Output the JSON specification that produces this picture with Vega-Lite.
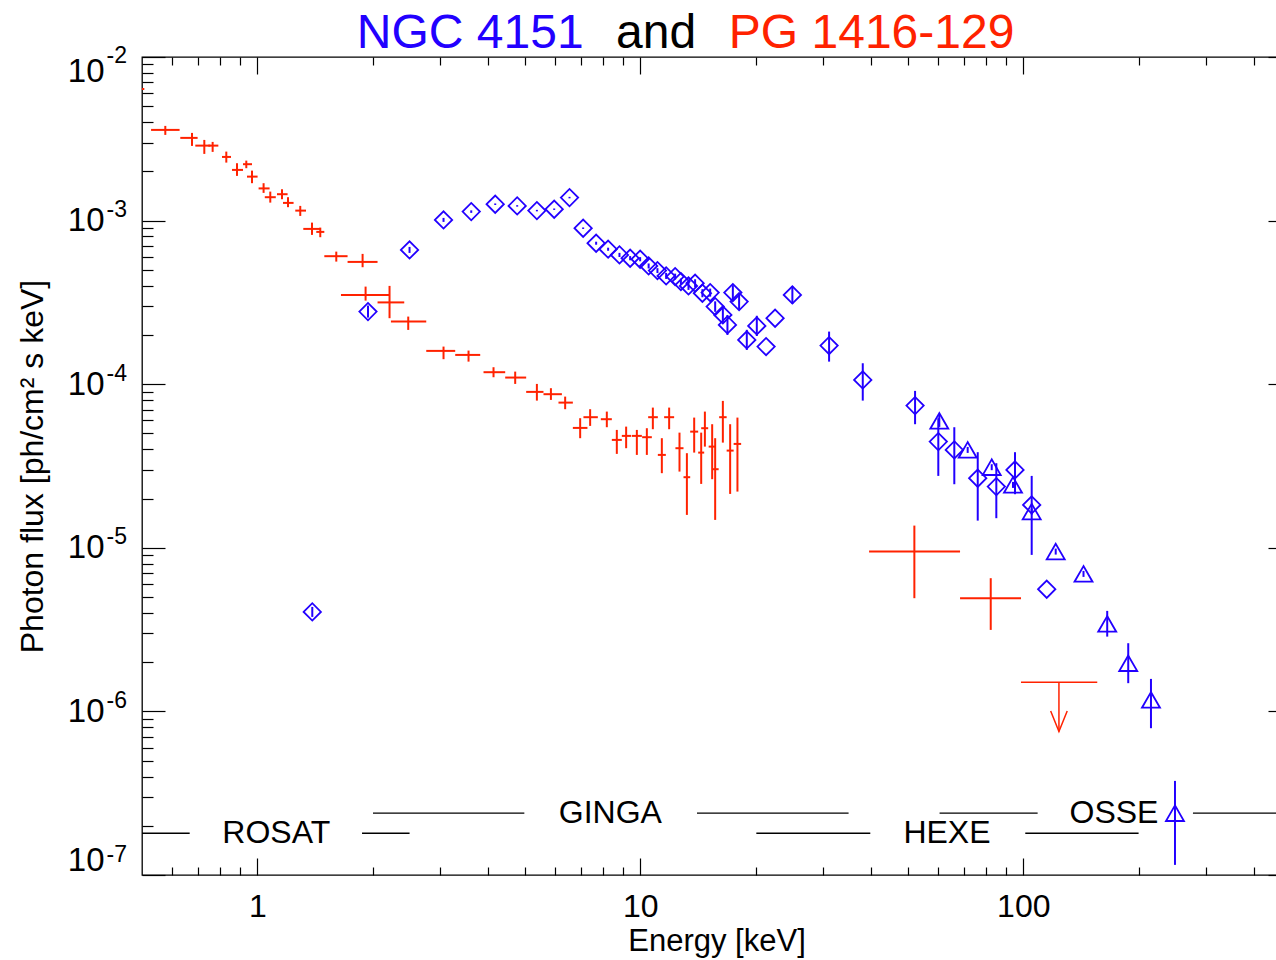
{
  "$schema": "https://vega.github.io/schema/vega-lite/v6.json",
  "width": 1149,
  "height": 818,
  "autosize": {"type": "none"},
  "padding": {"left": 142, "top": 57, "right": -15, "bottom": 85},
  "background": "white",
  "config": {
    "view": {"stroke": "#000", "strokeWidth": 1.3},
    "axis": {"domain": false, "grid": false, "tickColor": "#000", "tickWidth": 1.2, "labelColor": "#000", "titleColor": "#000", "labelFont": "Liberation Sans", "titleFont": "Liberation Sans", "titleFontWeight": "normal", "labelOverlap": false, "labelFlush": false}
  },
  "datasets": {
    "red": [
      {"E":0.45,"Elo":0.40,"Ehi":0.507,"F":6.383e-3,"Flo":6.383e-3,"Fhi":6.383e-3},
      {"E":0.5752,"Elo":0.5280,"Ehi":0.6268,"F":3.584e-3,"Flo":3.341e-3,"Fhi":3.792e-3},
      {"E":0.6754,"Elo":0.6294,"Ehi":0.6985,"F":3.203e-3,"Flo":2.861e-3,"Fhi":3.436e-3},
      {"E":0.7272,"Elo":0.6889,"Ehi":0.7540,"F":2.873e-3,"Flo":2.557e-3,"Fhi":3.113e-3},
      {"E":0.7646,"Elo":0.7450,"Ehi":0.7912,"F":2.873e-3,"Flo":2.630e-3,"Fhi":3.027e-3},
      {"E":0.8300,"Elo":0.8089,"Ehi":0.8538,"F":2.450e-3,"Flo":2.262e-3,"Fhi":2.641e-3},
      {"E":0.8850,"Elo":0.8590,"Ehi":0.9178,"F":2.041e-3,"Flo":1.876e-3,"Fhi":2.243e-3},
      {"E":0.9360,"Elo":0.9178,"Ehi":0.9686,"F":2.212e-3,"Flo":2.091e-3,"Fhi":2.326e-3},
      {"E":0.9686,"Elo":0.9400,"Ehi":1.0018,"F":1.857e-3,"Flo":1.693e-3,"Fhi":2.021e-3},
      {"E":1.0386,"Elo":1.0078,"Ehi":1.0767,"F":1.573e-3,"Flo":1.477e-3,"Fhi":1.693e-3},
      {"E":1.0812,"Elo":1.0461,"Ehi":1.1176,"F":1.390e-3,"Flo":1.288e-3,"Fhi":1.504e-3},
      {"E":1.1600,"Elo":1.1257,"Ehi":1.1998,"F":1.450e-3,"Flo":1.351e-3,"Fhi":1.555e-3},
      {"E":1.2027,"Elo":1.1670,"Ehi":1.2437,"F":1.283e-3,"Flo":1.208e-3,"Fhi":1.390e-3},
      {"E":1.2947,"Elo":1.2565,"Ehi":1.3402,"F":1.151e-3,"Flo":1.068e-3,"Fhi":1.230e-3},
      {"E":1.3892,"Elo":1.3186,"Ehi":1.4603,"F":8.897e-4,"Flo":8.177e-4,"Fhi":9.722e-4},
      {"E":1.4603,"Elo":1.4256,"Ehi":1.4962,"F":8.530e-4,"Flo":7.916e-4,"Fhi":9.061e-4},
      {"E":1.6078,"Elo":1.4962,"Ehi":1.7207,"F":6.060e-4,"Flo":5.615e-4,"Fhi":6.463e-4},
      {"E":1.8834,"Elo":1.7207,"Ehi":2.0605,"F":5.591e-4,"Flo":5.189e-4,"Fhi":6.259e-4},
      {"E":1.9176,"Elo":1.6538,"Ehi":2.2145,"F":3.514e-4,"Flo":3.243e-4,"Fhi":3.950e-4},
      {"E":2.2145,"Elo":2.0605,"Ehi":2.4192,"F":3.162e-4,"Flo":2.532e-4,"Fhi":3.989e-4},
      {"E":2.4780,"Elo":2.2333,"Ehi":2.7614,"F":2.413e-4,"Flo":2.147e-4,"Fhi":2.590e-4},
      {"E":3.0637,"Elo":2.7614,"Ehi":3.2867,"F":1.598e-4,"Flo":1.422e-4,"Fhi":1.698e-4},
      {"E":3.5608,"Elo":3.2867,"Ehi":3.8197,"F":1.510e-4,"Flo":1.374e-4,"Fhi":1.605e-4},
      {"E":4.1379,"Elo":3.8963,"Ehi":4.4388,"F":1.184e-4,"Flo":1.103e-4,"Fhi":1.270e-4},
      {"E":4.7137,"Elo":4.4388,"Ehi":5.0355,"F":1.098e-4,"Flo":1.004e-4,"Fhi":1.194e-4},
      {"E":5.3703,"Elo":5.0355,"Ehi":5.5875,"F":8.974e-5,"Flo":7.938e-5,"Fhi":1.004e-4},
      {"E":5.8429,"Elo":5.5875,"Ehi":6.2409,"F":8.688e-5,"Flo":8.016e-5,"Fhi":9.453e-5},
      {"E":6.3654,"Elo":6.1148,"Ehi":6.6668,"F":7.718e-5,"Flo":7.034e-5,"Fhi":8.398e-5},
      {"E":6.9663,"Elo":6.6668,"Ehi":7.2778,"F":5.405e-5,"Flo":4.677e-5,"Fhi":6.197e-5},
      {"E":7.3967,"Elo":7.1051,"Ehi":7.7469,"F":6.285e-5,"Flo":5.560e-5,"Fhi":7.034e-5},
      {"E":8.1774,"Elo":7.8878,"Ehi":8.4273,"F":6.110e-5,"Flo":5.458e-5,"Fhi":6.801e-5},
      {"E":8.6836,"Elo":8.4273,"Ehi":8.9487,"F":4.566e-5,"Flo":3.750e-5,"Fhi":5.255e-5},
      {"E":9.1843,"Elo":8.9487,"Ehi":9.4645,"F":4.831e-5,"Flo":4.062e-5,"Fhi":5.505e-5},
      {"E":9.7949,"Elo":9.5045,"Ehi":10.094,"F":4.831e-5,"Flo":3.697e-5,"Fhi":5.255e-5},
      {"E":10.402,"Elo":10.112,"Ehi":10.718,"F":4.743e-5,"Flo":3.697e-5,"Fhi":5.382e-5},
      {"E":10.784,"Elo":10.484,"Ehi":11.112,"F":6.285e-5,"Flo":5.307e-5,"Fhi":7.194e-5},
      {"E":11.383,"Elo":11.112,"Ehi":11.660,"F":3.697e-5,"Flo":2.858e-5,"Fhi":4.677e-5},
      {"E":11.894,"Elo":11.541,"Ehi":12.256,"F":6.285e-5,"Flo":5.307e-5,"Fhi":7.194e-5},
      {"E":12.658,"Elo":12.352,"Ehi":12.966,"F":4.062e-5,"Flo":2.923e-5,"Fhi":5.058e-5},
      {"E":13.233,"Elo":12.966,"Ehi":13.498,"F":2.701e-5,"Flo":1.589e-5,"Fhi":3.787e-5},
      {"E":13.826,"Elo":13.498,"Ehi":14.162,"F":5.130e-5,"Flo":3.819e-5,"Fhi":6.250e-5},
      {"E":14.421,"Elo":14.162,"Ehi":14.683,"F":3.819e-5,"Flo":2.458e-5,"Fhi":5.058e-5},
      {"E":14.745,"Elo":14.421,"Ehi":15.040,"F":5.382e-5,"Flo":4.154e-5,"Fhi":6.801e-5},
      {"E":15.405,"Elo":15.085,"Ehi":15.733,"F":4.154e-5,"Flo":2.626e-5,"Fhi":5.694e-5},
      {"E":15.685,"Elo":15.405,"Ehi":16.017,"F":3.023e-5,"Flo":1.481e-5,"Fhi":4.677e-5},
      {"E":16.427,"Elo":16.066,"Ehi":16.806,"F":6.285e-5,"Flo":4.395e-5,"Fhi":7.905e-5},
      {"E":17.163,"Elo":16.806,"Ehi":17.528,"F":3.928e-5,"Flo":2.135e-5,"Fhi":5.694e-5},
      {"E":17.933,"Elo":17.528,"Ehi":18.336,"F":4.315e-5,"Flo":2.206e-5,"Fhi":6.250e-5},
      {"E":51.95,"Elo":39.57,"Ehi":68.37,"F":9.479e-6,"Flo":4.920e-6,"Fhi":1.367e-5},
      {"E":82.22,"Elo":68.37,"Ehi":98.63,"F":4.920e-6,"Flo":3.149e-6,"Fhi":6.520e-6}
    ],
    "ul": [
      {"E":123.9,"Elo":98.63,"Ehi":156.0,"F":1.509e-6,"Ftip":7.525e-7}
    ],
    "diam": [
      {"E":1.3918,"F":4.058e-6,"Flo":3.781e-6,"Fhi":4.352e-6},
      {"E":1.9454,"F":2.778e-4,"Flo":2.554e-4,"Fhi":3.024e-4},
      {"E":2.4975,"F":6.620e-4,"Flo":6.346e-4,"Fhi":6.906e-4},
      {"E":3.0637,"F":1.0099e-3,"Flo":9.818e-4,"Fhi":1.0387e-3},
      {"E":3.6192,"F":1.1350e-3,"Flo":1.115e-3,"Fhi":1.155e-3},
      {"E":4.1804,"F":1.2596e-3,"Flo":1.246e-3,"Fhi":1.273e-3},
      {"E":4.7705,"F":1.2299e-3,"Flo":1.217e-3,"Fhi":1.243e-3},
      {"E":5.3703,"F":1.1511e-3,"Flo":1.139e-3,"Fhi":1.163e-3},
      {"E":5.9591,"F":1.1740e-3,"Flo":1.162e-3,"Fhi":1.186e-3},
      {"E":6.5340,"F":1.3821e-3,"Flo":1.368e-3,"Fhi":1.397e-3},
      {"E":7.0924,"F":8.985e-4,"Flo":8.89e-4,"Fhi":9.08e-4},
      {"E":7.6681,"F":7.275e-4,"Flo":7.12e-4,"Fhi":7.43e-4},
      {"E":8.2414,"F":6.687e-4,"Flo":6.54e-4,"Fhi":6.83e-4},
      {"E":8.8234,"F":6.171e-4,"Flo":5.99e-4,"Fhi":6.35e-4},
      {"E":9.4078,"F":5.891e-4,"Flo":5.72e-4,"Fhi":6.07e-4},
      {"E":9.9910,"F":5.809e-4,"Flo":5.64e-4,"Fhi":5.98e-4},
      {"E":10.514,"F":5.284e-4,"Flo":5.10e-4,"Fhi":5.47e-4},
      {"E":11.086,"F":4.947e-4,"Flo":4.78e-4,"Fhi":5.12e-4},
      {"E":11.681,"F":4.592e-4,"Flo":4.40e-4,"Fhi":4.79e-4},
      {"E":12.330,"F":4.547e-4,"Flo":4.36e-4,"Fhi":4.74e-4},
      {"E":12.765,"F":4.238e-4,"Flo":4.06e-4,"Fhi":4.42e-4},
      {"E":13.361,"F":3.989e-4,"Flo":3.77e-4,"Fhi":4.22e-4},
      {"E":13.903,"F":4.144e-4,"Flo":3.92e-4,"Fhi":4.38e-4},
      {"E":14.527,"F":3.599e-4,"Flo":3.40e-4,"Fhi":3.81e-4},
      {"E":15.221,"F":3.630e-4,"Flo":3.43e-4,"Fhi":3.84e-4},
      {"E":15.685,"F":2.981e-4,"Flo":2.77e-4,"Fhi":3.21e-4},
      {"E":16.427,"F":2.652e-4,"Flo":2.39e-4,"Fhi":2.94e-4},
      {"E":16.887,"F":2.304e-4,"Flo":2.00e-4,"Fhi":2.65e-4},
      {"E":17.444,"F":3.630e-4,"Flo":3.27e-4,"Fhi":4.03e-4},
      {"E":18.113,"F":3.197e-4,"Flo":2.85e-4,"Fhi":3.58e-4},
      {"E":18.970,"F":1.865e-4,"Flo":1.62e-4,"Fhi":2.15e-4},
      {"E":20.147,"F":2.272e-4,"Flo":1.97e-4,"Fhi":2.62e-4},
      {"E":21.303,"F":1.698e-4,"Flo":1.698e-4,"Fhi":1.698e-4},
      {"E":22.487,"F":2.532e-4,"Flo":2.532e-4,"Fhi":2.532e-4},
      {"E":24.950,"F":3.514e-4,"Flo":3.10e-4,"Fhi":3.98e-4},
      {"E":31.112,"F":1.722e-4,"Flo":1.374e-4,"Fhi":2.097e-4},
      {"E":38.094,"F":1.062e-4,"Flo":7.938e-5,"Fhi":1.343e-4},
      {"E":52.17,"F":7.398e-5,"Flo":5.694e-5,"Fhi":9.101e-5},
      {"E":59.99,"F":4.457e-5,"Flo":2.751e-5,"Fhi":6.197e-5},
      {"E":66.05,"F":3.967e-5,"Flo":2.447e-5,"Fhi":5.458e-5},
      {"E":76.04,"F":2.663e-5,"Flo":1.466e-5,"Fhi":3.841e-5},
      {"E":85.03,"F":2.366e-5,"Flo":1.517e-5,"Fhi":3.290e-5},
      {"E":95.13,"F":2.993e-5,"Flo":2.126e-5,"Fhi":3.841e-5},
      {"E":105.18,"F":1.829e-5,"Flo":9.049e-6,"Fhi":2.751e-5},
      {"E":115.13,"F":5.582e-6,"Flo":5.582e-6,"Fhi":5.582e-6}
    ],
    "tri": [
      {"E":60.35,"F":5.966e-5,"Flo":5.483e-5,"Fhi":6.494e-5},
      {"E":71.58,"F":3.967e-5,"Flo":3.802e-5,"Fhi":4.136e-5},
      {"E":82.71,"F":3.109e-5,"Flo":2.981e-5,"Fhi":3.243e-5},
      {"E":94.00,"F":2.423e-5,"Flo":2.323e-5,"Fhi":2.528e-5},
      {"E":105.18,"F":1.664e-5,"Flo":1.596e-5,"Fhi":1.736e-5},
      {"E":121.52,"F":9.479e-6,"Flo":9.089e-6,"Fhi":9.888e-6},
      {"E":143.62,"F":6.925e-6,"Flo":6.639e-6,"Fhi":7.224e-6},
      {"E":165.62,"F":3.426e-6,"Flo":2.865e-6,"Fhi":4.115e-6},
      {"E":187.93,"F":1.970e-6,"Flo":1.488e-6,"Fhi":2.611e-6},
      {"E":215.45,"F":1.176e-6,"Flo":7.895e-7,"Fhi":1.580e-6},
      {"E":248.9,"F":2.386e-7,"Flo":1.153e-7,"Fhi":3.760e-7}
    ],
    "inst": [
      {"E1":0.3,"E2":0.666,"F":1.8e-7},
      {"E1":1.877,"E2":2.498,"F":1.8e-7},
      {"E1":2.005,"E2":4.98,"F":2.39e-7},
      {"E1":14.06,"E2":34.98,"F":2.39e-7},
      {"E1":20.09,"E2":39.86,"F":1.8e-7},
      {"E1":101.2,"E2":200,"F":1.8e-7},
      {"E1":60.45,"E2":109,"F":2.39e-7},
      {"E1":277.3,"E2":800,"F":2.39e-7}
    ],
    "lbl": [
      {"E":1.121,"F":1.8e-7,"text":"ROSAT"},
      {"E":8.35,"F":2.39e-7,"text":"GINGA"},
      {"E":63.2,"F":1.8e-7,"text":"HEXE"},
      {"E":172.5,"F":2.39e-7,"text":"OSSE"}
    ],
    "ttl": [
      {"E":3.597,"F":0.011318,"text":"NGC 4151"},
      {"E":11.0,"F":0.011318,"text":"and"},
      {"E":40.17,"F":0.011318,"text":"PG 1416-129"}
    ]
  },
  "resolve": {"axis": {"x": "independent", "y": "independent"}},
  "layer": [
    {
      "data": {"name": "red"},
      "mark": {"type": "rule", "color": "#ff2200", "strokeWidth": 2, "clip": true},
      "encoding": {
        "x": {"field": "Elo", "type": "quantitative", "scale": {"type": "log", "domain": [0.5, 500], "nice": false},
          "axis": {"orient": "bottom", "values": [1, 10, 100], "ticks": false, "labelExpr": "format(datum.value, 'd')", "labelFontSize": 32, "labelPadding": 16, "title": "Energy [keV]", "titleFontSize": 31, "titlePadding": 4}},
        "x2": {"field": "Ehi"},
        "y": {"field": "F", "type": "quantitative", "scale": {"type": "log", "domain": [1e-7, 1e-2], "nice": false},
          "axis": {"orient": "left", "values": [1e-7, 1e-6, 1e-5, 1e-4, 1e-3, 1e-2], "ticks": false, "labelExpr": "'10'", "labelFontSize": 33, "labelPadding": 38, "labelFlush": true, "labelFlushOffset": 2, "title": "Photon flux [ph/cm² s keV]", "titleFontSize": 32, "titlePadding": 18}}
      }
    },
    {
      "data": {"name": "red"},
      "mark": {"type": "rule", "color": "#ff2200", "strokeWidth": 2, "clip": true},
      "encoding": {
        "x": {"field": "E", "type": "quantitative", "scale": {"type": "log", "domain": [0.5, 500], "nice": false},
          "axis": {"orient": "bottom", "values": [1, 10, 100], "labels": false, "tickSize": -17, "title": null}},
        "y": {"field": "Flo", "type": "quantitative", "scale": {"type": "log", "domain": [1e-7, 1e-2], "nice": false},
          "axis": {"orient": "left", "values": [1e-7, 1e-6, 1e-5, 1e-4, 1e-3, 1e-2], "ticks": false, "labelExpr": "'-' + format(-log(datum.value)/LN10, '.0f')", "labelAlign": "left", "labelFontSize": 23, "labelPadding": 36, "labelOffset": -11, "labelFlush": true, "labelFlushOffset": 2, "title": null}},
        "y2": {"field": "Fhi"}
      }
    },
    {
      "data": {"name": "diam"},
      "mark": {"type": "rule", "color": "#2200ff", "strokeWidth": 2, "clip": true},
      "encoding": {
        "x": {"field": "E", "type": "quantitative", "scale": {"type": "log", "domain": [0.5, 500], "nice": false},
          "axis": {"orient": "bottom", "values": [0.6, 0.7, 0.8, 0.9, 2, 3, 4, 5, 6, 7, 8, 9, 20, 30, 40, 50, 60, 70, 80, 90, 200, 300, 400], "labels": false, "tickSize": -8, "title": null}},
        "y": {"field": "Flo", "type": "quantitative", "scale": {"type": "log", "domain": [1e-7, 1e-2], "nice": false},
          "axis": {"orient": "left", "values": [1e-7, 1e-6, 1e-5, 1e-4, 1e-3, 1e-2], "labels": false, "tickSize": -23, "title": null}},
        "y2": {"field": "Fhi"}
      }
    },
    {
      "data": {"name": "tri"},
      "mark": {"type": "rule", "color": "#2200ff", "strokeWidth": 2, "clip": true},
      "encoding": {
        "x": {"field": "E", "type": "quantitative", "scale": {"type": "log", "domain": [0.5, 500], "nice": false},
          "axis": {"orient": "top", "values": [1, 10, 100], "labels": false, "tickSize": -17, "title": null}},
        "y": {"field": "Flo", "type": "quantitative", "scale": {"type": "log", "domain": [1e-7, 1e-2], "nice": false},
          "axis": {"orient": "left", "values": [2e-7,3e-7,4e-7,5e-7,6e-7,7e-7,8e-7,9e-7,2e-6,3e-6,4e-6,5e-6,6e-6,7e-6,8e-6,9e-6,2e-5,3e-5,4e-5,5e-5,6e-5,7e-5,8e-5,9e-5,2e-4,3e-4,4e-4,5e-4,6e-4,7e-4,8e-4,9e-4,2e-3,3e-3,4e-3,5e-3,6e-3,7e-3,8e-3,9e-3], "labels": false, "tickSize": -11, "title": null}},
        "y2": {"field": "Fhi"}
      }
    },
    {
      "data": {"name": "diam"},
      "mark": {"type": "point", "shape": "diamond", "size": 300, "filled": false, "color": "#2200ff", "strokeWidth": 1.8, "opacity": 1, "clip": true},
      "encoding": {
        "x": {"field": "E", "type": "quantitative", "scale": {"type": "log", "domain": [0.5, 500], "nice": false},
          "axis": {"orient": "top", "values": [0.6, 0.7, 0.8, 0.9, 2, 3, 4, 5, 6, 7, 8, 9, 20, 30, 40, 50, 60, 70, 80, 90, 200, 300, 400], "labels": false, "tickSize": -8, "title": null}},
        "y": {"field": "F", "type": "quantitative", "scale": {"type": "log", "domain": [1e-7, 1e-2], "nice": false},
          "axis": {"orient": "right", "values": [1e-7, 1e-6, 1e-5, 1e-4, 1e-3, 1e-2], "labels": false, "tickSize": -23, "title": null}}
      }
    },
    {
      "data": {"name": "tri"},
      "mark": {"type": "point", "shape": "triangle-up", "size": 324, "filled": false, "color": "#2200ff", "strokeWidth": 1.8, "opacity": 1, "clip": true},
      "encoding": {
        "x": {"field": "E", "type": "quantitative", "scale": {"type": "log", "domain": [0.5, 500], "nice": false}, "axis": null},
        "y": {"field": "F", "type": "quantitative", "scale": {"type": "log", "domain": [1e-7, 1e-2], "nice": false},
          "axis": {"orient": "right", "values": [2e-7,3e-7,4e-7,5e-7,6e-7,7e-7,8e-7,9e-7,2e-6,3e-6,4e-6,5e-6,6e-6,7e-6,8e-6,9e-6,2e-5,3e-5,4e-5,5e-5,6e-5,7e-5,8e-5,9e-5,2e-4,3e-4,4e-4,5e-4,6e-4,7e-4,8e-4,9e-4,2e-3,3e-3,4e-3,5e-3,6e-3,7e-3,8e-3,9e-3], "labels": false, "tickSize": -11, "title": null}}
      }
    },
    {
      "data": {"name": "ul"},
      "mark": {"type": "rule", "color": "#ff2200", "strokeWidth": 1.5, "clip": true},
      "encoding": {
        "x": {"field": "Elo", "type": "quantitative", "scale": {"type": "log", "domain": [0.5, 500], "nice": false}, "axis": null},
        "x2": {"field": "Ehi"},
        "y": {"field": "F", "type": "quantitative", "scale": {"type": "log", "domain": [1e-7, 1e-2], "nice": false}, "axis": null}
      }
    },
    {
      "data": {"name": "ul"},
      "mark": {"type": "rule", "color": "#ff2200", "strokeWidth": 1.5, "clip": true},
      "encoding": {
        "x": {"field": "E", "type": "quantitative", "scale": {"type": "log", "domain": [0.5, 500], "nice": false}, "axis": null},
        "y": {"field": "F", "type": "quantitative", "scale": {"type": "log", "domain": [1e-7, 1e-2], "nice": false}, "axis": null},
        "y2": {"field": "Ftip"}
      }
    },
    {
      "data": {"name": "ul"},
      "mark": {"type": "point", "shape": "M-0.8,-2L0,0L0.8,-2", "size": 428, "filled": false, "color": "#ff2200", "strokeWidth": 1.5, "opacity": 1},
      "encoding": {
        "x": {"field": "E", "type": "quantitative", "scale": {"type": "log", "domain": [0.5, 500], "nice": false}, "axis": null},
        "y": {"field": "Ftip", "type": "quantitative", "scale": {"type": "log", "domain": [1e-7, 1e-2], "nice": false}, "axis": null}
      }
    },
    {
      "data": {"name": "inst"},
      "mark": {"type": "rule", "color": "#000", "strokeWidth": 1.4, "clip": true},
      "encoding": {
        "x": {"field": "E1", "type": "quantitative", "scale": {"type": "log", "domain": [0.5, 500], "nice": false}, "axis": null},
        "x2": {"field": "E2"},
        "y": {"field": "F", "type": "quantitative", "scale": {"type": "log", "domain": [1e-7, 1e-2], "nice": false}, "axis": null}
      }
    },
    {
      "data": {"name": "lbl"},
      "mark": {"type": "text", "font": "Liberation Sans", "fontSize": 32, "color": "#000", "align": "center", "baseline": "middle"},
      "encoding": {
        "x": {"field": "E", "type": "quantitative", "scale": {"type": "log", "domain": [0.5, 500], "nice": false}, "axis": null},
        "y": {"field": "F", "type": "quantitative", "scale": {"type": "log", "domain": [1e-7, 1e-2], "nice": false}, "axis": null},
        "text": {"field": "text"}
      }
    },
    {
      "data": {"name": "ttl"},
      "mark": {"type": "text", "font": "Liberation Sans", "fontSize": 48, "align": "center", "baseline": "alphabetic"},
      "encoding": {
        "x": {"field": "E", "type": "quantitative", "scale": {"type": "log", "domain": [0.5, 500], "nice": false}, "axis": null},
        "y": {"field": "F", "type": "quantitative", "scale": {"type": "log", "domain": [1e-7, 1e-2], "nice": false}, "axis": null},
        "text": {"field": "text"},
        "color": {"field": "text", "type": "nominal", "scale": {"domain": ["NGC 4151", "and", "PG 1416-129"], "range": ["#2200ff", "#000000", "#ff2200"]}, "legend": null}
      }
    }
  ]
}
